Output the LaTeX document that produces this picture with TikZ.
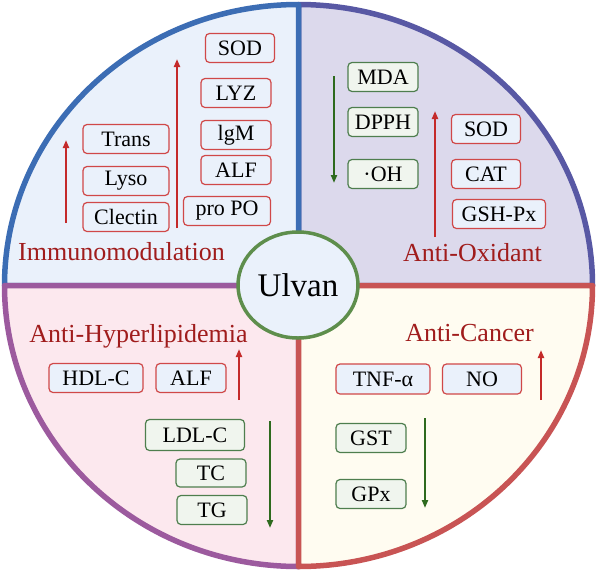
\documentclass[tikz,border=0pt]{standalone}
\usepackage{fontspec}
\setmainfont{Liberation Serif}
\usepackage{tikz}
\usetikzlibrary{positioning, shapes.geometric, arrows.meta}
\definecolor{quadBlue}{HTML}{3C6DB4}
\definecolor{quadIndigo}{HTML}{5858A4}
\definecolor{quadPurple}{HTML}{9C5A9E}
\definecolor{quadRed}{HTML}{C85454}
\definecolor{fillBlue}{HTML}{EAF1FB}
\definecolor{fillLavender}{HTML}{DCD9EC}
\definecolor{fillPink}{HTML}{FCE8EE}
\definecolor{fillCream}{HTML}{FFFCF1}
\definecolor{boxRed}{HTML}{D04848}
\definecolor{boxGreen}{HTML}{4E7E4E}
\definecolor{boxGreenFill}{HTML}{F0F5EE}
\definecolor{titleRed}{HTML}{A01C1C}
\definecolor{arrowRed}{HTML}{C42A2A}
\definecolor{arrowGreen}{HTML}{2E6A1E}
\definecolor{hubGreen}{HTML}{5E8E4C}
\tikzset{
  quadrant/.style={line width=5.5pt, line join=round},
  upbox/.style={draw=boxRed, fill=fillBlue, rounded corners=4pt, line width=1.2pt,
                minimum height=29pt, minimum width=70pt, inner sep=0pt,
                font=\fontsize{22}{24}\selectfont},
  downbox/.style={upbox, draw=boxGreen, fill=boxGreenFill},
  effect/.style={text=titleRed, inner sep=0pt, anchor=base, font=\fontsize{26}{28}\selectfont},
  uparrow/.style={draw=arrowRed, line width=2pt, -{Triangle[length=8pt,width=6pt]}},
  downarrow/.style={uparrow, draw=arrowGreen},
}

\begin{document}
\begin{tikzpicture}[x=1pt, y=-1pt]
  \useasboundingbox (0,0) rectangle (597,571);
  % quadrants
  \coordinate (hub) at (298.5,285.5);
  \filldraw[quadrant, draw=quadIndigo, fill=fillLavender] (hub) -- ++(0,-281)
    arc[start angle=270, end angle=360, x radius=294, y radius=281] -- cycle;
  \filldraw[quadrant, draw=quadBlue, fill=fillBlue] (hub) -- ++(-294,0)
    arc[start angle=180, end angle=270, x radius=294, y radius=281] -- cycle;
  \filldraw[quadrant, draw=quadPurple, fill=fillPink] (hub) -- ++(0,281)
    arc[start angle=90, end angle=180, x radius=294, y radius=281] -- cycle;
  \filldraw[quadrant, draw=quadRed, fill=fillCream] (hub) -- ++(294,0)
    arc[start angle=0, end angle=90, x radius=294, y radius=281] -- cycle;

  % immunomodulation
  \node[upbox, minimum width=69pt] (sodA) at (240,48) {SOD};
  \node[upbox] (lyz) at (236,93) {LYZ};
  \node[upbox] (igm) at (236,135) {lgM};
  \node[upbox] (alfA) at (236,170) {ALF};
  \node[upbox, minimum width=87pt] (propo) at (227,211) {pro PO};
  \node[upbox, minimum width=86pt] (trans) at (126,139) {Trans};
  \node[upbox, minimum width=86pt] (lyso) at (126,181) {Lyso};
  \node[upbox, minimum width=86pt] (clectin) at (126,217) {Clectin};
  \coordinate (immShortLo) at (66,223);
  \coordinate (immShortHi) at (66,140);
  \coordinate (immLongLo) at (177,228);
  \coordinate (immLongHi) at (177,59);
  \draw[uparrow] (immShortLo) -- (immShortHi);
  \draw[uparrow] (immLongLo) -- (immLongHi);
  \node[effect] (immuno) at (121.5,260) {Immunomodulation};

  % anti-oxidant
  \node[downbox] (mda) at (383,77) {MDA};
  \node[downbox] (dpph) at (383,122) {DPPH};
  \node[downbox] (oh) at (383,174) {·OH};
  \node[upbox, minimum width=69pt] (sodB) at (486,129) {SOD};
  \node[upbox, minimum width=69pt] (cat) at (486,174) {CAT};
  \node[upbox, minimum width=93pt] (gshpx) at (499,214) {GSH-Px};
  \coordinate (oxDownHi) at (334,76);
  \coordinate (oxDownLo) at (334,183);
  \coordinate (oxUpLo) at (435,237);
  \coordinate (oxUpHi) at (435,111);
  \draw[downarrow] (oxDownHi) -- (oxDownLo);
  \draw[uparrow] (oxUpLo) -- (oxUpHi);
  \node[effect] (oxidant) at (472.5,261) {Anti-Oxidant};

  % anti-hyperlipidemia
  \node[effect] (lipid) at (138.5,342) {Anti-Hyperlipidemia};
  \node[upbox, minimum width=94pt] (hdlc) at (96,378) {HDL-C};
  \node[upbox] (alfB) at (191,378) {ALF};
  \node[downbox, minimum width=99pt, minimum height=31pt] (ldlc) at (195,435) {LDL-C};
  \node[downbox, minimum height=28pt] (tc) at (211,473) {TC};
  \node[downbox] (tg) at (212,510) {TG};
  \coordinate (lipUpLo) at (239,400);
  \coordinate (lipUpHi) at (239,349);
  \coordinate (lipDownHi) at (270,421);
  \coordinate (lipDownLo) at (270,528);
  \draw[uparrow] (lipUpLo) -- (lipUpHi);
  \draw[downarrow] (lipDownHi) -- (lipDownLo);

  % anti-cancer
  \node[effect] (cancer) at (469.5,341) {Anti-Cancer};
  \node[upbox, minimum width=94pt, minimum height=30pt] (tnf) at (383,379) {TNF-α};
  \node[upbox, minimum width=79pt, minimum height=30pt] (no) at (482,379) {NO};
  \node[downbox] (gst) at (371,438) {GST};
  \node[downbox] (gpx) at (371,494) {GPx};
  \coordinate (canUpLo) at (541,400);
  \coordinate (canUpHi) at (541,350);
  \coordinate (canDownHi) at (425,418);
  \coordinate (canDownLo) at (425,508);
  \draw[uparrow] (canUpLo) -- (canUpHi);
  \draw[downarrow] (canDownHi) -- (canDownLo);

  % centre
  \node[ellipse, draw=hubGreen, fill=fillBlue, line width=3.5pt, minimum width=120pt,
        minimum height=106pt, inner sep=0pt, font=\fontsize{33}{36}\selectfont] (ulvan) at (298,285) {Ulvan};
\end{tikzpicture}
\end{document}
